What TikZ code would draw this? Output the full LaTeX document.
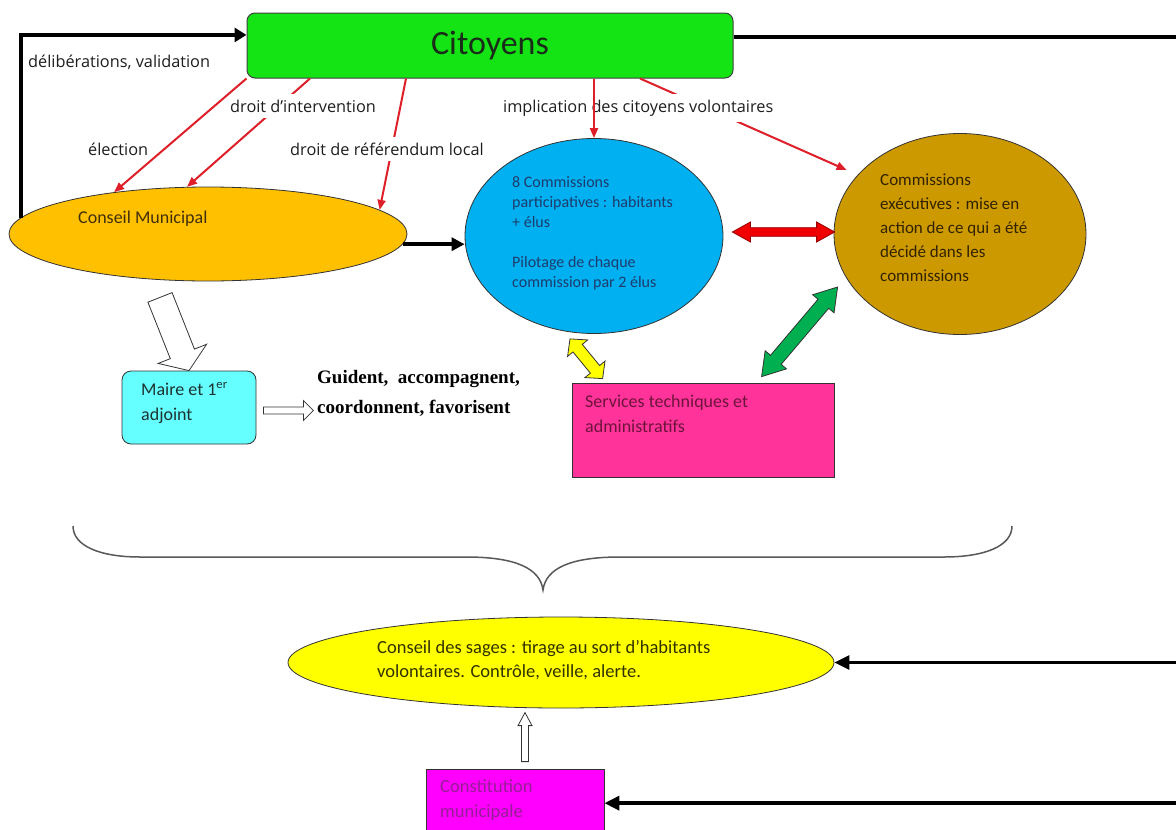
\documentclass[tikz,border=0pt]{standalone}
\usepackage{fontspec}
\setmainfont{Carlito}
\newfontfamily\labfont{Open Sans}
\newfontfamily\boldserif{Liberation Serif}
\usetikzlibrary{shapes.geometric,arrows.meta,calc}
\definecolor{citgreen}{RGB}{20,228,20}
\definecolor{cittext}{RGB}{25,45,25}
\definecolor{orangec}{RGB}{255,192,0}
\definecolor{bluec}{RGB}{0,176,240}
\definecolor{brownc}{RGB}{204,153,0}
\definecolor{pinkc}{RGB}{255,51,153}
\definecolor{cyanc}{RGB}{102,255,255}
\definecolor{yellowc}{RGB}{255,255,0}
\definecolor{magc}{RGB}{255,0,255}
\definecolor{redline}{RGB}{222,30,40}
\definecolor{redfill}{RGB}{240,0,0}
\definecolor{darkred}{RGB}{150,0,0}
\definecolor{greenfill}{RGB}{0,176,80}
\definecolor{cmtext}{RGB}{65,48,10}
\definecolor{bluetext}{RGB}{30,60,110}
\definecolor{browntext}{RGB}{50,35,0}
\definecolor{servtext}{RGB}{110,20,60}
\definecolor{mairetext}{RGB}{30,50,50}
\definecolor{sagestext}{RGB}{50,50,0}
\definecolor{consttext}{RGB}{150,30,150}
\definecolor{labtxt}{RGB}{30,30,30}
\tikzset{
  ell/.style={ellipse, draw=black!80, line width=0.8pt, inner sep=0pt},
  boxnode/.style={rectangle, draw=black!80, line width=0.8pt, inner sep=0pt},
  txt/.style={inner sep=0pt, anchor=base west, align=left},
  lbl/.style={font=\labfont\fontsize{16.3}{20}\selectfont, text=labtxt, inner sep=0pt, anchor=base west},
  lblw/.style={lbl, fill=white, inner xsep=2pt, inner ysep=6pt},
  blk/.style={draw=black, line width=3.5pt, -{Triangle[length=13pt,width=13pt]}},
  redc/.style={draw=redline, line width=2pt, -{Triangle[length=10pt,width=8pt]}},
  blockar/.style={draw=black!80, line width=0.8pt}
}
\newcommand{\dblarrow}[6]{%
  \draw[#6] (#1) -- ($(#1)!#3!(#2)!#4!90:(#2)$) -- ($(#1)!#3!(#2)!#5!90:(#2)$)
   -- ($(#2)!#3!(#1)!#5!-90:(#1)$) -- ($(#2)!#3!(#1)!#4!-90:(#1)$) -- (#2)
   -- ($(#2)!#3!(#1)!#4!90:(#1)$) -- ($(#2)!#3!(#1)!#5!90:(#1)$)
   -- ($(#1)!#3!(#2)!#5!-90:(#2)$) -- ($(#1)!#3!(#2)!#4!-90:(#2)$) -- cycle;}
\newcommand{\sglarrow}[6]{%
  \draw[#6] ($(#1)!#5!90:(#2)$) -- ($(#2)!#3!(#1)!#5!-90:(#1)$)
   -- ($(#2)!#3!(#1)!#4!-90:(#1)$) -- (#2) -- ($(#2)!#3!(#1)!#4!90:(#1)$)
   -- ($(#2)!#3!(#1)!#5!90:(#1)$) -- ($(#1)!#5!-90:(#2)$) -- cycle;}
\begin{document}
\begin{tikzpicture}[x=1pt,y=-1pt]
\fill[white] (0,0) rectangle (1176,830);
\useasboundingbox (0,0) rectangle (1176,830);
\coordinate (right) at (1176,0);

% main shapes
\node[draw=black!75, line width=1pt, fill=citgreen, rounded corners=8pt, minimum width=486pt, minimum height=65pt, inner sep=0pt, font=\fontsize{34}{40}\selectfont, text=cittext] (cit) at (490,45.5) {Citoyens};
\node[ell, fill=orangec, minimum width=398pt, minimum height=94pt] (cm) at (208,234) {};
\node[ell, fill=bluec, minimum width=258pt, minimum height=195pt] (blue) at (594,236) {};
\node[ell, fill=brownc, minimum width=252pt, minimum height=201pt] (br) at (960,234) {};
\node[boxnode, fill=pinkc, minimum width=262pt, minimum height=94pt] (serv) at (703,430) {};
\node[boxnode, fill=cyanc, rounded corners=9pt, minimum width=134pt, minimum height=73pt] (maire) at (189,407.5) {};
\node[ell, fill=yellowc, minimum width=546pt, minimum height=91pt] (sages) at (561,662.5) {};
\node[boxnode, fill=magc, minimum width=178pt, minimum height=76pt] (const) at (515,807) {};

% texts in shapes (base anchor = baseline of last line)
\node[txt, font=\fontsize{18}{22}\selectfont, text=cmtext] (cmt) at (78,223) {Conseil Municipal};
\node[txt, font=\fontsize{16}{20}\selectfont, text=bluetext] (bluet) at (512,287) {8 Commissions\\participatives : habitants\\+ élus\\[20pt]Pilotage de chaque\\commission par 2 élus};
\node[txt, font=\fontsize{17}{24}\selectfont, text=browntext] (brt) at (880,281) {Commissions\\exécutives : mise en\\action de ce qui a été\\décidé dans les\\commissions};
\node[txt, font=\fontsize{18}{25}\selectfont, text=servtext] (servt) at (585,432) {Services techniques et\\administratifs};
\node[txt, font=\fontsize{18}{25}\selectfont, text=mairetext] (mairet) at (141,420) {Maire et 1\textsuperscript{er}\\adjoint};
\node[txt, font=\boldserif\bfseries\fontsize{19}{30}\selectfont, text=black] (guid) at (317,413) {Guident,~ accompagnent,\\coordonnent, favorisent};
\node[txt, font=\fontsize{18.5}{24}\selectfont, text=sagestext] (sagest) at (377,677) {Conseil des sages : tirage au sort d’habitants\\volontaires. Contrôle, veille, alerte.};
\node[txt, font=\fontsize{18.5}{25}\selectfont, text=consttext] (constt) at (440,817) {Constitution\\municipale};

% black connectors
\draw[blk, -{Triangle[length=12pt,width=14pt]}] (cm.175) |- ($(cit.north west)!0.34!(cit.south west)$);
\coordinate (ctr) at ($(cit.north east)!0.37!(cit.south east)$);
\draw[line width=4pt] (ctr) -- (ctr -| right);
\draw[blk, line width=3pt, -{Triangle[length=15pt,width=14pt]}] (right |- sages.east) -- (sages.east);
\coordinate (ce) at ($(const.north east)!0.45!(const.south east)$);
\draw[blk, line width=3.5pt, -{Triangle[length=15pt,width=14pt]}] (ce -| right) -- (ce);
\draw[blk, line width=3.5pt] (cm.357.7) -- (cm.357.7 -| blue.west);

% red connectors and labels
\draw[redc] (310,0 |- cit.south) -- (cm.114);
\node[lblw] (l2) at (228,112) {droit d’intervention};
\draw[redc] (406,0 |- cit.south) -- (cm.8);
\node[lblw] (l3) at (288,155) {droit de référendum local};
\draw[redc, shorten >=12pt] (640,0 |- cit.south) -- (br.150);
\node[lblw] (l4) at (501,112) {implication des citoyens volontaires};
\draw[redc] (blue.north |- cit.south) -- (blue.north);
\draw[redc] (cit.south west) -- (cm.156);
\node[lbl] (l1) at (88,155) {élection};
\node[lbl] (l0) at (28,67) {délibérations, validation};

% block arrows
\coordinate (ra) at ($(blue.east)+(9,-4)$);
\coordinate (rb) at ($(br.west)+(1,-2)$);
\dblarrow{ra}{rb}{18pt}{10pt}{4.3pt}{blockar, fill=redfill, draw=darkred}
\coordinate (ga) at ($(serv.north west)+(190,-6)$);
\coordinate (gb) at ($(br.west)+(4,53)$);
\dblarrow{ga}{gb}{22pt}{14pt}{7pt}{blockar, fill=greenfill}
\coordinate (ya) at ($(blue.south)+(-24,5)$);
\coordinate (yb) at ($(serv.north west)+(31,-4)$);
\dblarrow{ya}{yb}{12pt}{13pt}{6pt}{blockar, fill=yellowc}
\coordinate (wa) at ($(cm.south)+(-48,16)$);
\sglarrow{wa}{maire.north}{18pt}{26pt}{13pt}{blockar, fill=white}
\coordinate (sa) at ($(maire.east)+(7,3)$);
\coordinate (sb) at ($(maire.east)+(57,3)$);
\sglarrow{sa}{sb}{10pt}{10pt}{3.5pt}{blockar, fill=white}
\coordinate (ua) at ($(const.north)+(10,-7)$);
\coordinate (ub) at ($(const.north)+(10,-56)$);
\sglarrow{ua}{ub}{13pt}{7pt}{3.5pt}{blockar, fill=white}

% brace
\draw[black!65, line width=1.5pt] (73,526) .. controls (73,546) and (100,557) .. (140,557) -- (466,557) .. controls (515,557) and (540,568) .. (543,590) .. controls (546,568) and (571,557) .. (620,557) -- (944,557) .. controls (985,557) and (1012,546) .. (1012,526);
\end{tikzpicture}
\end{document}
